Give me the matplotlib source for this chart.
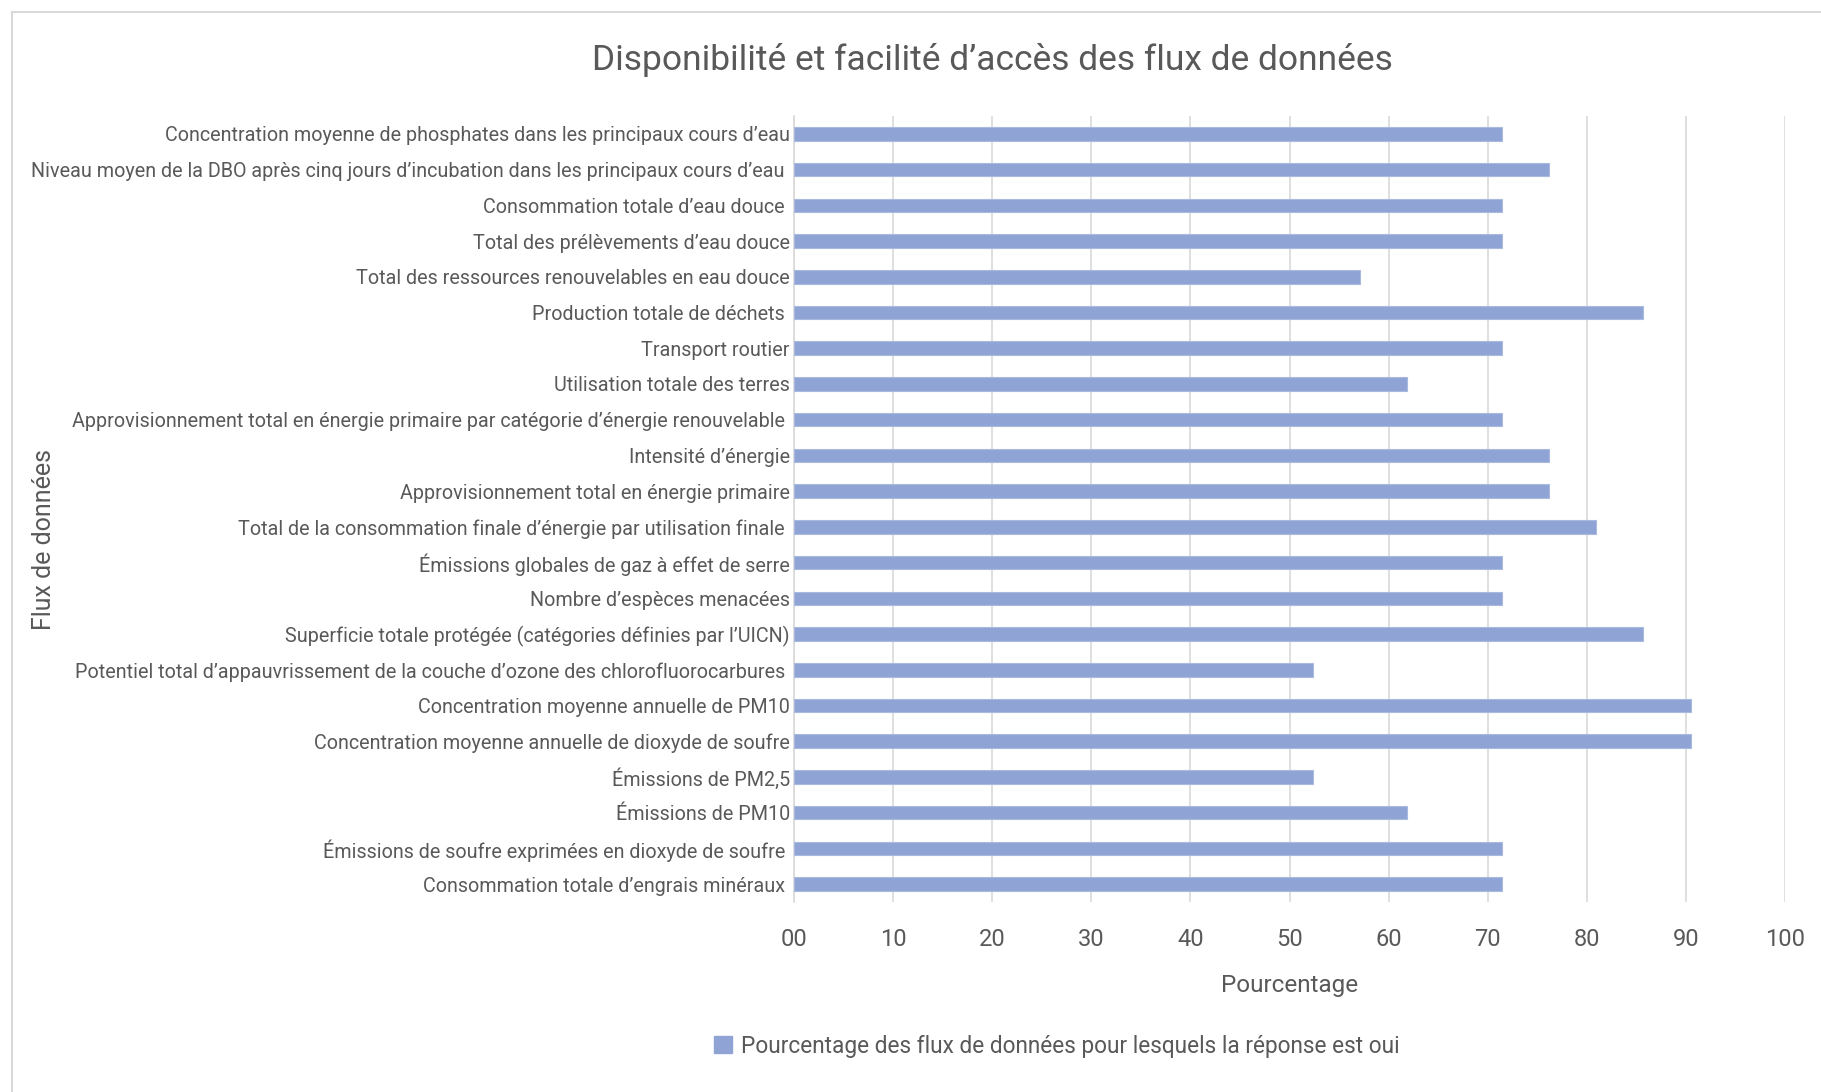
import matplotlib.pyplot as plt
from matplotlib.patches import Patch
from matplotlib.lines import Line2D

# data, top to bottom as shown in the chart
categories = [
    "Concentration moyenne de phosphates dans les principaux cours d\u2019eau",
    "Niveau moyen de la DBO apr\u00e8s cinq jours d\u2019incubation dans les principaux cours d\u2019eau ",
    "Consommation totale d\u2019eau douce ",
    "Total des pr\u00e9l\u00e8vements d\u2019eau douce",
    "Total des ressources renouvelables en eau douce",
    "Production totale de d\u00e9chets ",
    "Transport routier",
    "Utilisation totale des terres",
    "Approvisionnement total en \u00e9nergie primaire par cat\u00e9gorie d\u2019\u00e9nergie renouvelable ",
    "Intensit\u00e9 d\u2019\u00e9nergie",
    "Approvisionnement total en \u00e9nergie primaire",
    "Total de la consommation finale d\u2019\u00e9nergie par utilisation finale ",
    "\u00c9missions globales de gaz \u00e0 effet de serre",
    "Nombre d\u2019esp\u00e8ces menac\u00e9es",
    "Superficie totale prot\u00e9g\u00e9e (cat\u00e9gories d\u00e9finies par l\u2019UICN)",
    "Potentiel total d\u2019appauvrissement de la couche d\u2019ozone des chlorofluorocarbures ",
    "Concentration moyenne annuelle de PM10",
    "Concentration moyenne annuelle de dioxyde de soufre",
    "\u00c9missions de PM2,5",
    "\u00c9missions de PM10",
    "\u00c9missions de soufre exprim\u00e9es en dioxyde de soufre ",
    "Consommation totale d\u2019engrais min\u00e9raux ",
]
values = [71.43, 76.19, 71.43, 71.43, 57.14, 85.71, 71.43, 61.90, 71.43, 76.19, 76.19,
          80.95, 71.43, 71.43, 85.71, 52.38, 90.48, 90.48, 52.38, 61.90, 71.43, 71.43]
xticks = list(range(0, 101, 10))
xtick_labels = ["00"] + [str(t) for t in xticks[1:]]

bar_color = "#8FA4D5"
text_color = "#595959"
plt.rcParams['font.family'] = ['Roboto', 'DejaVu Sans']

fig = plt.figure(figsize=(18.21, 10.92), dpi=100)
ax = fig.add_axes([794 / 1821, 1 - 902 / 1092, (1785 - 794) / 1821, (902 - 116) / 1092])

y = list(range(len(categories)))
ax.barh(y, values, height=0.38, color=bar_color, edgecolor="#A9B9E0", linewidth=0.8, zorder=3)
ax.set_ylim(len(categories) - 0.5, -0.5)
ax.set_xlim(0, 100)

ax.set_yticks(y)
ax.set_yticklabels(categories, fontsize=14.2, color=text_color)
ax.set_xticks(xticks)
ax.set_xticklabels(xtick_labels, fontsize=17, color=text_color)
ax.tick_params(axis='both', length=0)
ax.tick_params(axis='x', pad=19)
ax.tick_params(axis='y', pad=3)

ax.grid(axis='x', color="#D9D9D9", linewidth=1.2, zorder=0)
for s in ['top', 'right', 'bottom']:
    ax.spines[s].set_visible(False)
ax.spines['left'].set_color("#D9D9D9")
ax.spines['left'].set_linewidth(1.2)

ax.set_xlabel("Pourcentage", fontsize=17.5, color=text_color, labelpad=16)
fig.text(44 / 1821, 1 - 539 / 1092, "Flux de donn\u00e9es", rotation=90, fontsize=18,
         color=text_color, ha='center', va='center')
fig.text(992 / 1821, 1 - 60 / 1092, "Disponibilit\u00e9 et facilit\u00e9 d\u2019acc\u00e8s des flux de donn\u00e9es",
         fontsize=25.5, color=text_color, ha='center', va='center')

handles = [Patch(facecolor=bar_color, edgecolor=bar_color)]
fig.legend(handles, ["Pourcentage des flux de donn\u00e9es pour lesquels la r\u00e9ponse est oui"],
           loc='center', bbox_to_anchor=(1057 / 1821, 1 - 1046 / 1092), frameon=False,
           fontsize=16.3, labelcolor=text_color, handlelength=0.8, handleheight=0.8,
           handletextpad=0.4)

# outer chart frame
fig.add_artist(Line2D([12 / 1821, 12 / 1821], [0, 1 - 12 / 1092], transform=fig.transFigure,
                      color="#D9D9D9", linewidth=1.5))
fig.add_artist(Line2D([12 / 1821, 1], [1 - 12 / 1092, 1 - 12 / 1092], transform=fig.transFigure,
                      color="#D9D9D9", linewidth=1.5))

fig.savefig("out.png", dpi=100)
